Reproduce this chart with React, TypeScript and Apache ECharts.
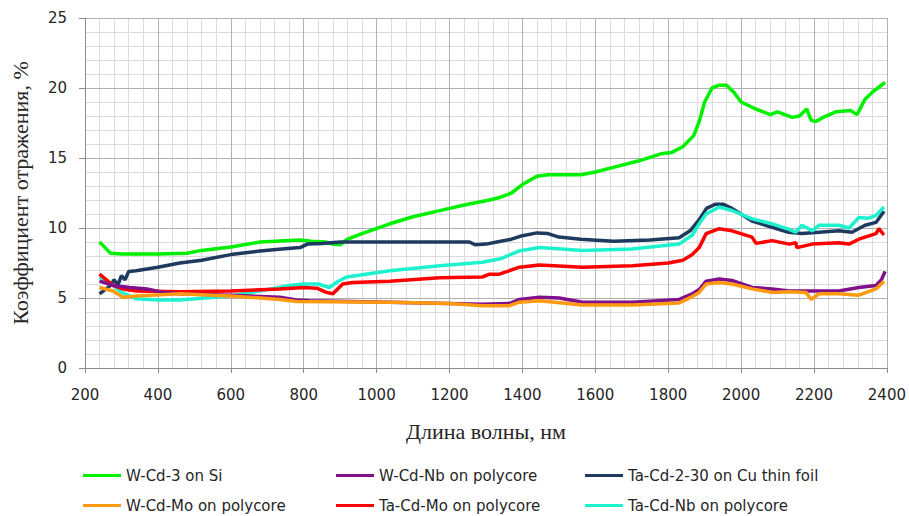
import React, { useEffect, useRef } from "react";
import * as echarts from "echarts";

const xRange = [200, 2400];
const xMajorStep = 200;
const xMinorStep = 40;
const yRange = [0, 25];
const yMajorStep = 5;
const yMinorStep = 1;

const seriesNames = [
  "W-Cd-3 on Si",
  "W-Cd-Nb on polycore",
  "Ta-Cd-2-30 on Cu thin foil",
  "W-Cd-Mo on polycore",
  "Ta-Cd-Mo on polycore",
  "Ta-Cd-Nb on polycore",
];

const wCd3OnSi: [number, number][] = [
  [240, 9.0], [255, 8.6], [270, 8.2], [300, 8.15], [400, 8.15], [480, 8.2], [520, 8.4], [600, 8.65],
  [680, 9.0], [720, 9.05], [790, 9.15], [820, 9.05], [860, 9.0], [880, 8.85], [900, 8.8], [920, 9.2],
  [960, 9.6], [1036, 10.3], [1100, 10.8], [1200, 11.4], [1250, 11.7], [1310, 12.0], [1340, 12.2],
  [1370, 12.5], [1400, 13.1], [1440, 13.7], [1470, 13.8], [1560, 13.8], [1600, 14.0], [1660, 14.4],
  [1720, 14.8], [1780, 15.3], [1810, 15.4], [1840, 15.8], [1870, 16.6], [1885, 17.6], [1900, 19.0],
  [1920, 20.0], [1940, 20.2], [1960, 20.2], [1980, 19.7], [2000, 19.0], [2040, 18.5], [2080, 18.1],
  [2100, 18.3], [2140, 17.9], [2160, 18.0], [2180, 18.5], [2192, 17.7], [2205, 17.6], [2225, 17.9],
  [2260, 18.3], [2300, 18.4], [2318, 18.1], [2340, 19.2], [2360, 19.7], [2375, 20.0], [2395, 20.4],
];

const wCdNbPolycore: [number, number][] = [
  [240, 6.2], [277, 5.9], [323, 5.75], [370, 5.65], [415, 5.4], [460, 5.3], [600, 5.2], [734, 5.05],
  [781, 4.85], [816, 4.8], [1036, 4.7], [1290, 4.55], [1364, 4.6], [1392, 4.9], [1447, 5.05],
  [1501, 5.0], [1565, 4.7], [1702, 4.7], [1830, 4.9], [1866, 5.3], [1885, 5.6], [1904, 6.2],
  [1940, 6.35], [1975, 6.25], [2030, 5.75], [2085, 5.65], [2132, 5.5], [2195, 5.5], [2268, 5.5],
  [2323, 5.75], [2370, 5.9], [2385, 6.3], [2395, 6.9],
];

const taCd230CuFoil: [number, number][] = [
  [240, 5.3], [255, 5.6], [270, 5.9], [280, 6.3], [290, 5.9], [300, 6.6], [310, 6.3], [320, 6.9],
  [340, 6.95], [400, 7.2], [460, 7.5], [520, 7.7], [600, 8.1], [680, 8.35], [740, 8.5], [790, 8.6],
  [810, 8.85], [850, 8.9], [900, 9.0], [1000, 9.0], [1255, 9.0], [1270, 8.8], [1300, 8.85],
  [1330, 9.0], [1370, 9.2], [1400, 9.45], [1440, 9.65], [1470, 9.6], [1500, 9.35], [1560, 9.2],
  [1650, 9.05], [1750, 9.15], [1830, 9.3], [1860, 9.8], [1885, 10.6], [1905, 11.4], [1930, 11.7],
  [1950, 11.7], [1975, 11.4], [2030, 10.5], [2085, 10.05], [2130, 9.7], [2167, 9.6], [2214, 9.7],
  [2268, 9.8], [2304, 9.7], [2340, 10.2], [2370, 10.4], [2392, 11.2],
];

const wCdMoPolycore: [number, number][] = [
  [240, 5.75], [277, 5.5], [304, 5.05], [342, 5.15], [460, 5.3], [597, 5.15], [734, 4.9],
  [781, 4.75], [1036, 4.7], [1200, 4.6], [1290, 4.45], [1364, 4.45], [1392, 4.7], [1447, 4.8],
  [1565, 4.5], [1702, 4.5], [1830, 4.65], [1866, 5.1], [1885, 5.4], [1904, 6.0], [1940, 6.1],
  [1975, 6.0], [2030, 5.65], [2085, 5.4], [2132, 5.45], [2178, 5.4], [2192, 4.9], [2214, 5.3],
  [2268, 5.3], [2323, 5.2], [2370, 5.65], [2392, 6.2],
];

const taCdMoPolycore: [number, number][] = [
  [240, 6.7], [277, 5.9], [304, 5.65], [342, 5.5], [460, 5.45], [600, 5.5], [734, 5.65], [800, 5.75],
  [836, 5.7], [862, 5.4], [880, 5.3], [907, 6.0], [934, 6.1], [1036, 6.2], [1173, 6.45], [1290, 6.5],
  [1310, 6.7], [1337, 6.7], [1392, 7.2], [1447, 7.35], [1565, 7.2], [1702, 7.3], [1800, 7.5],
  [1840, 7.7], [1866, 8.1], [1885, 8.6], [1904, 9.6], [1940, 9.95], [1975, 9.8], [2030, 9.35],
  [2041, 8.9], [2085, 9.1], [2132, 8.85], [2150, 8.95], [2153, 8.6], [2195, 8.85], [2268, 8.95],
  [2296, 8.85], [2323, 9.2], [2370, 9.6], [2378, 9.95], [2392, 9.5],
];

const taCdNbPolycore: [number, number][] = [
  [240, 6.5], [260, 6.2], [277, 5.9], [300, 5.4], [340, 4.95], [400, 4.85], [460, 4.85], [600, 5.15],
  [700, 5.6], [760, 5.9], [800, 6.0], [840, 6.0], [870, 5.75], [895, 6.2], [918, 6.5], [1036, 6.95],
  [1173, 7.3], [1290, 7.55], [1340, 7.8], [1390, 8.35], [1447, 8.6], [1565, 8.4], [1700, 8.5],
  [1830, 8.85], [1866, 9.5], [1885, 10.3], [1904, 11.0], [1940, 11.5], [1975, 11.25], [2030, 10.65],
  [2085, 10.3], [2132, 9.9], [2150, 9.7], [2167, 10.2], [2195, 9.8], [2214, 10.2], [2268, 10.2],
  [2296, 10.0], [2323, 10.75], [2350, 10.7], [2370, 10.9], [2392, 11.5],
];

const seriesData = [wCd3OnSi, wCdNbPolycore, taCd230CuFoil, wCdMoPolycore, taCdMoPolycore, taCdNbPolycore];
const seriesColors = ["#00f000", "#800f8c", "#1f3a5f", "#ff9a10", "#ff0000", "#1df2cf"];
const drawOrder = [0, 2, 5, 4, 1, 3];

const legendPos = [
  { left: 83, top: 468 },
  { left: 336, top: 468 },
  { left: 585, top: 468 },
  { left: 83, top: 498 },
  { left: 336, top: 498 },
  { left: 585, top: 498 },
];

export default function App() {
  const ref = useRef<HTMLDivElement>(null);
  useEffect(() => {
    if (!ref.current) return;
    const chart = echarts.init(ref.current, null, { renderer: "svg" });
    const tickFont = { fontFamily: "DejaVu Sans", fontSize: 15, color: "#262626" };
    const axisGrey = "#8c8c8c";
    const minorAxis = (min: number, max: number, step: number) => ({
      type: "value",
      min,
      max,
      interval: step,
      axisLine: { show: false },
      axisTick: { show: false },
      axisLabel: { show: false },
      splitLine: { show: true, lineStyle: { color: "#dcdcdc", width: 1 } },
      z: 0,
    });
    const option: any = {
      animation: false,
      backgroundColor: "#ffffff",
      grid: { left: 85, right: 21, top: 18, bottom: 148, containLabel: false },
      xAxis: [
        {
          type: "value",
          min: xRange[0],
          max: xRange[1],
          interval: xMajorStep,
          name: "Длина волны, нм",
          nameLocation: "middle",
          nameGap: 52,
          nameTextStyle: { fontFamily: "Liberation Serif", fontSize: 22, color: "#262626" },
          axisLine: { show: true, lineStyle: { color: axisGrey, width: 1 } },
          axisTick: { show: true, length: 5, lineStyle: { color: axisGrey } },
          axisLabel: { ...tickFont, margin: 19, formatter: (v: number) => String(v) },
          splitLine: { show: true, lineStyle: { color: "#b0b0b0", width: 1 } },
          z: 1,
        },
        { ...minorAxis(xRange[0], xRange[1], xMinorStep), position: "bottom" },
      ],
      yAxis: [
        {
          type: "value",
          min: yRange[0],
          max: yRange[1],
          interval: yMajorStep,
          name: "Коэффициент отражения, %",
          nameLocation: "middle",
          nameGap: 54,
          nameRotate: 90,
          nameTextStyle: { fontFamily: "Liberation Serif", fontSize: 22, color: "#262626" },
          axisLine: { show: true, lineStyle: { color: axisGrey, width: 1 } },
          axisTick: { show: true, length: 6, lineStyle: { color: axisGrey } },
          axisLabel: { ...tickFont, margin: 18, formatter: (v: number) => String(v) },
          splitLine: { show: true, lineStyle: { color: "#b0b0b0", width: 1 } },
          z: 1,
        },
        { ...minorAxis(yRange[0], yRange[1], yMinorStep), position: "left" },
      ],
      legend: seriesNames.map((n, i) => ({
        data: [n],
        left: legendPos[i].left,
        top: legendPos[i].top,
        icon: "rect",
        itemWidth: 38,
        itemHeight: 3,
        itemGap: 0,
        padding: 0,
        textStyle: { fontFamily: "DejaVu Sans", fontSize: 15, color: "#262626" },
        selectedMode: false,
      })),
      series: drawOrder.map((i) => ({
        name: seriesNames[i],
        type: "line",
        xAxisIndex: 0,
        yAxisIndex: 0,
        data: seriesData[i],
        showSymbol: false,
        symbol: "none",
        color: seriesColors[i],
        lineStyle: { width: 3.5, color: seriesColors[i] },
        z: 3,
      })),
    };
    chart.setOption(option);
    return () => chart.dispose();
  }, []);
  return (
    <div
      ref={ref}
      style={{ position: "fixed", left: 0, top: 0, width: 909, height: 516, background: "#fff" }}
    />
  );
}
